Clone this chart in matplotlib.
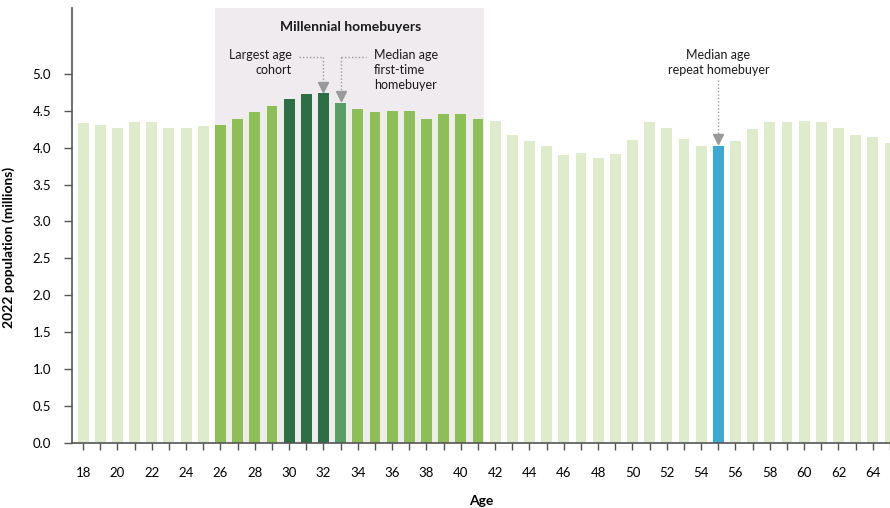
import numpy as np
import matplotlib.pyplot as plt

# --- data ---
ages = list(range(18, 66))
population = [4.33, 4.30, 4.27, 4.35, 4.35, 4.27, 4.27, 4.29,   # 18-25
              4.31, 4.39, 4.48, 4.56, 4.66, 4.73, 4.74, 4.61,   # 26-33
              4.52, 4.48, 4.49, 4.49, 4.39, 4.46, 4.45, 4.39,   # 34-41
              4.36, 4.17, 4.09, 4.02, 3.90, 3.93, 3.86, 3.91,   # 42-49
              4.10, 4.35, 4.27, 4.12, 4.02, 4.02, 4.09, 4.25,   # 50-57
              4.35, 4.35, 4.36, 4.35, 4.26, 4.17, 4.14, 4.06]   # 58-65

millennial_ages = (26, 41)
largest_ages = [30, 31, 32]
median_first_age = 33
median_repeat_age = 55

c_light = '#dfeccb'
c_mid = '#8cc055'
c_dark = '#2a7042'
c_first = '#55a062'
c_blue = '#3aa9d5'

colors = []
for a in ages:
    if a == median_repeat_age:
        colors.append(c_blue)
    elif a == median_first_age:
        colors.append(c_first)
    elif a in largest_ages:
        colors.append(c_dark)
    elif millennial_ages[0] <= a <= millennial_ages[1]:
        colors.append(c_mid)
    else:
        colors.append(c_light)

plt.rcParams['font.family'] = ['Lato', 'DejaVu Sans']
plt.rcParams['text.color'] = '#1a1a1a'

fig = plt.figure(figsize=(8.9, 5.08), dpi=100)
ax = fig.add_axes([72/890, 65/508, 818/890, 435/508])

bw = 0.64
ax.axvspan(millennial_ages[0] - 0.34, millennial_ages[1] + 0.34, color='#efebef', lw=0, zorder=0)
ax.bar(ages, population, width=bw, color=colors, zorder=2)

ax.set_xlim(17.35, 17.35 + 818/17.26)
ax.set_ylim(0, 5.89)

ax.set_yticks(np.arange(0, 5.01, 0.5))
ax.set_yticklabels([f'{v:.1f}' for v in np.arange(0, 5.01, 0.5)])
ax.set_xticks(range(18, 66))
ax.set_xticklabels([str(a) if a % 2 == 0 else '' for a in range(18, 66)])

for s in ['top', 'right']:
    ax.spines[s].set_visible(False)
for s in ['left', 'bottom']:
    ax.spines[s].set_color('#555555')
    ax.spines[s].set_linewidth(1.2)
ax.tick_params(axis='x', length=5, width=1, color='#555555', pad=12, labelsize=9.5)
ax.tick_params(axis='y', length=6, width=1, color='#555555', pad=9, labelsize=9.5)

ax.set_xlabel('Age', fontsize=10, fontweight='bold', labelpad=12)
ax.set_ylabel('2022 population (millions)', fontsize=10, fontweight='bold')
ax.yaxis.set_label_coords(-0.07, 0.45)

# --- annotations ---
ax.text(33.6, 5.63, 'Millennial homebuyers', ha='center', va='center',
        fontsize=10, fontweight='bold')

dot = dict(color='#9a9a9a', lw=1, ls=(0, (1, 1.5)))
tri = dict(marker='v', color='#9a9a9a', ms=7, ls='none')

# largest age cohort -> bar 32
ax.text(30.15, 5.33, 'Largest age\ncohort', ha='right', va='top', fontsize=9, linespacing=1.3)
ax.plot([30.6, 32], [5.23, 5.23], **dot)
ax.plot([32, 32], [5.23, 4.84], **dot)
ax.plot([32], [4.82], **tri)

# median first-time -> bar 33
ax.text(34.95, 5.33, 'Median age\nfirst-time\nhomebuyer', ha='left', va='top', fontsize=9, linespacing=1.3)
ax.plot([33, 34.5], [5.23, 5.23], **dot)
ax.plot([33, 33], [5.23, 4.72], **dot)
ax.plot([33], [4.70], **tri)

# median repeat -> bar 55
ax.text(55, 5.33, 'Median age\nrepeat homebuyer', ha='center', va='top', fontsize=9, linespacing=1.3)
ax.plot([55, 55], [4.92, 4.14], **dot)
ax.plot([55], [4.12], **tri)

fig.savefig('out.png', dpi=100)
